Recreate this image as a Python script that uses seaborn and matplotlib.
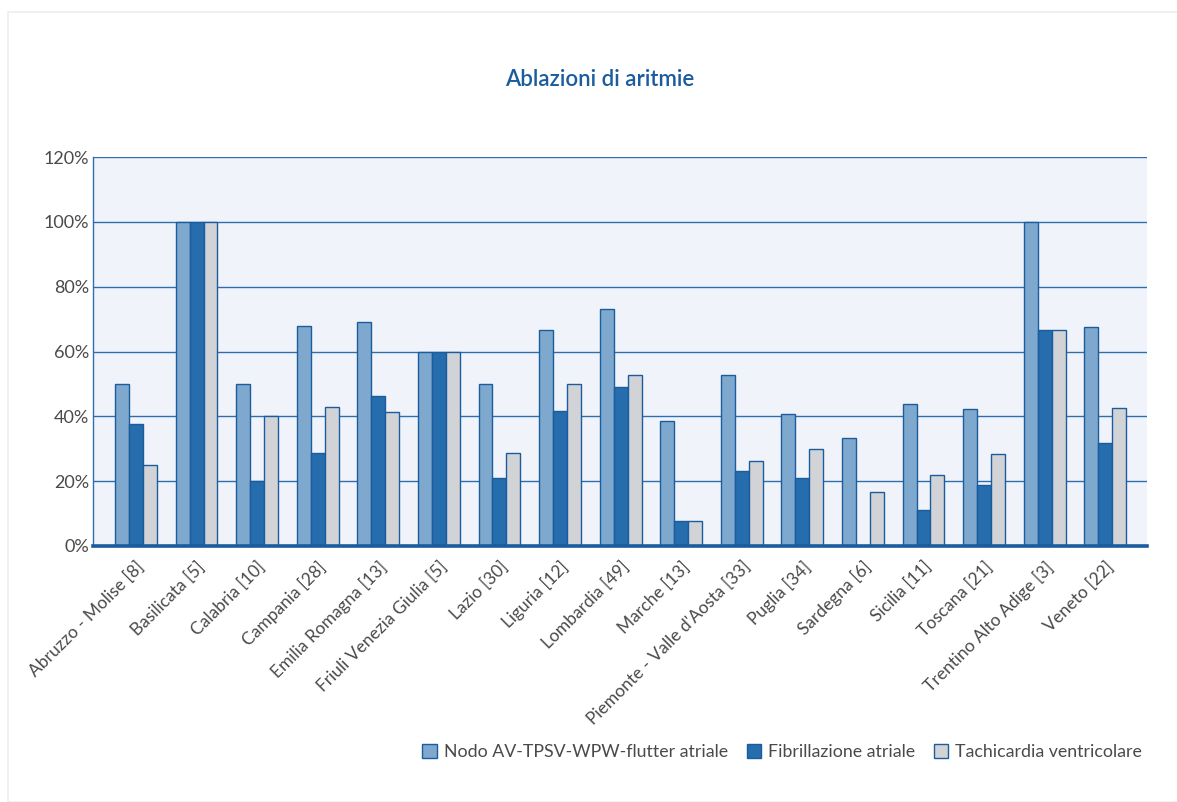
import numpy as np
import pandas as pd
import matplotlib
matplotlib.use("Agg")
import matplotlib.pyplot as plt
from matplotlib.patches import Patch, Rectangle
from matplotlib.ticker import FixedLocator, PercentFormatter
import seaborn as sns

regions = [
    "Abruzzo - Molise [8]", "Basilicata [5]", "Calabria [10]", "Campania [28]",
    "Emilia Romagna [13]", "Friuli Venezia Giulia [5]", "Lazio [30]", "Liguria [12]",
    "Lombardia [49]", "Marche [13]", "Piemonte - Valle d'Aosta [33]", "Puglia [34]",
    "Sardegna [6]", "Sicilia [11]", "Toscana [21]", "Trentino Alto Adige [3]", "Veneto [22]",
]
series = ["Nodo AV-TPSV-WPW-flutter atriale", "Fibrillazione atriale", "Tachicardia ventricolare"]

nodo_av = [50.0, 100.0, 50.0, 67.9, 69.2, 60.0, 50.0, 66.7, 73.2, 38.5, 52.9, 40.8,
           33.3, 43.9, 42.4, 100.0, 67.7]
fibrillazione = [37.5, 100.0, 20.0, 28.6, 46.2, 60.0, 21.1, 41.7, 48.9, 7.7, 23.0, 20.9,
                 0.0, 11.0, 18.9, 66.7, 31.7]
tachicardia = [25.0, 100.0, 40.0, 42.9, 41.2, 60.0, 28.6, 50.0, 52.9, 7.7, 26.3, 29.9,
               16.7, 22.0, 28.4, 66.7, 42.5]

colors = ["#7EA8CD", "#256DAD", "#D1D3D6"]
edge = "#1B5C9E"
text_color = "#4A4A4A"

df = pd.DataFrame({
    "Regione": regions * 3,
    "Serie": [s for s in series for _ in regions],
    "Valore": nodo_av + fibrillazione + tachicardia,
})

sns.set_theme(style="white")
plt.rcParams["font.family"] = ["Lato", "DejaVu Sans"]

fig = plt.figure(figsize=(11.77, 8.02), dpi=100)
fig.patch.set_facecolor("white")
# soft outer frame
fig.patches.append(Rectangle((8 / 1177, 0.0), 1.0, 1 - 12 / 802, transform=fig.transFigure,
                             facecolor="none", edgecolor="#EDEDED", lw=1.2, zorder=0))

ax = fig.add_axes([93 / 1177, 1 - 546 / 802, (1147 - 93) / 1177, (546 - 157) / 802])
ax.set_facecolor("#F0F4FA")

sns.barplot(data=df, x="Regione", y="Valore", hue="Serie", order=regions,
            hue_order=series, palette=colors, width=0.69, saturation=1,
            edgecolor=edge, linewidth=1.0, legend=False, ax=ax, zorder=3)

ax.set_ylim(0, 120)
ax.set_xlim(-0.71, len(regions) - 1 + 0.69)
ax.yaxis.set_major_locator(FixedLocator(np.arange(0, 121, 20)))
ax.yaxis.set_major_formatter(PercentFormatter(decimals=0))
ax.grid(axis="y", color="#2F6DAE", lw=1.0, zorder=1)
ax.set_axisbelow(True)
ax.set_xlabel("")
ax.set_ylabel("")

for side in ["right", "top"]:
    ax.spines[side].set_visible(False)
ax.spines["left"].set_color("#2F6DAE")
ax.spines["left"].set_linewidth(1.0)
ax.spines["bottom"].set_color("#1B5C9E")
ax.spines["bottom"].set_linewidth(2.6)
ax.spines["bottom"].set_zorder(5)

ax.tick_params(axis="y", length=0, labelsize=13, labelcolor=text_color, pad=3)
ax.set_xticks(range(len(regions)))
ax.set_xticklabels(regions, rotation=45, ha="right", rotation_mode="anchor",
                   fontsize=12.5, color=text_color)
ax.tick_params(axis="x", which="major", length=0, pad=9)
ax.xaxis.set_minor_locator(FixedLocator(np.arange(0.5, len(regions) - 1, 1.0)))
ax.tick_params(axis="x", which="minor", length=4, color="#C8C8C8", width=1)

fig.text(600 / 1177, 1 - 80 / 802, "Ablazioni di aritmie", ha="center", va="center",
         fontsize=16, color="#1B5C9E", fontweight="semibold")

handles = [Patch(facecolor=c, edgecolor=edge, linewidth=1.0, label=s)
           for c, s in zip(colors, series)]
fig.legend(handles=handles, loc="center right", bbox_to_anchor=(1149 / 1177, 1 - 752 / 802),
           ncol=3, frameon=False, fontsize=12.8, handlelength=0.8, handleheight=0.8,
           handletextpad=0.4, columnspacing=1.05, labelcolor=text_color, borderaxespad=0)

fig.savefig("out.png", dpi=100, facecolor="white")
